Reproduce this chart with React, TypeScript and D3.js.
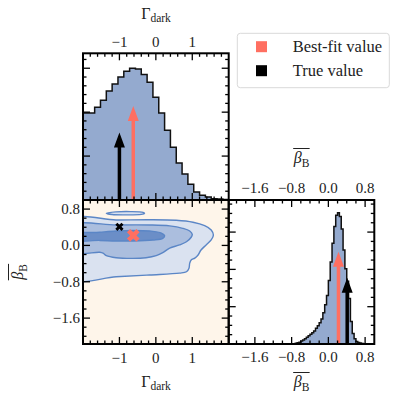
import React, { useEffect, useRef } from "react";
import * as d3 from "d3";

const W = 397;
const H = 399;

// marginal of Gamma_dark: 25 bins over [-2, 2]
const gammaRange = [-2, 2];
const gammaCounts = [
  1.98, 1.98, 2.11, 2.27, 2.48, 2.64, 2.8, 2.93, 3.0, 2.98, 2.86, 2.68, 2.34,
  1.98, 1.59, 1.2, 0.84, 0.59, 0.36, 0.18, 0.11, 0.07, 0.03, 0.02, 0.01,
];

// marginal of beta_B: bins of 0.04 from -0.76
const betaStart = -0.76;
const betaWidth = 0.04;
const betaCounts = [
  0.005, 0.02, 0.035, 0.05, 0.08, 0.11, 0.14, 0.18, 0.22, 0.26, 0.3, 0.35,
  0.42, 0.49, 0.57, 0.67, 0.84, 1.05, 1.3, 1.7, 2.2, 2.7, 3.15, 3.45, 3.52,
  3.42, 3.08, 2.52, 2.02, 1.68, 1.22, 0.6, 0.28, 0.14, 0.07, 0.04, 0.025,
  0.015, 0.01, 0.005,
];

const bestFit = { gamma: -0.62, beta: 0.22 };
const truth = { gamma: -1.0, beta: 0.41 };
// arrow length as fraction of axis height
const arrowFrac = { best: 0.64, truth: 0.46 };

const gammaTicks = [-1, 0, 1];
const betaTicks = [-1.6, -0.8, 0, 0.8];
const histTicks = [0, 1, 2, 3];

// 2D credible contours, [Gamma_dark, beta_B]
const contourOuter = [
  [-2.3, 0.56], [-1.09, 0.56], [-0.17, 0.566], [0.56, 0.553], [1.02, 0.51],
  [1.34, 0.434], [1.52, 0.34], [1.58, 0.23], [1.52, 0.12], [1.38, 0.01],
  [1.24, -0.1], [1.16, -0.21], [1.07, -0.28], [0.97, -0.32], [0.93, -0.39],
  [0.91, -0.5], [0.84, -0.58], [0.65, -0.61], [-0.17, -0.65], [-1.09, -0.69],
  [-2.3, -0.73],
];
const contourMid = [
  [-2.3, 0.43], [-1.09, 0.45], [-0.17, 0.45], [0.38, 0.43], [0.74, 0.377],
  [0.93, 0.318], [1.0, 0.245], [0.97, 0.18], [0.84, 0.08], [0.65, 0.01],
  [0.38, -0.06], [0.19, -0.16], [0.01, -0.225], [-0.27, -0.27],
  [-0.63, -0.285], [-1.09, -0.27], [-1.36, -0.225], [-1.45, -0.17],
  [-1.54, -0.15], [-2.3, -0.14],
];
const contourInner = [
  [-2.3, 0.24], [-1.54, 0.29], [-1.09, 0.317], [-0.63, 0.33], [-0.17, 0.317],
  [0.15, 0.273], [0.24, 0.214], [0.19, 0.156], [-0.08, 0.12], [-0.63, 0.098],
  [-1.09, 0.098], [-1.54, 0.11], [-2.3, 0.12],
];
const contourIsland = [
  [-1.36, 0.71], [-1.1, 0.738], [-0.7, 0.745], [-0.35, 0.727], [-0.31, 0.705],
  [-0.4, 0.683], [-0.8, 0.672], [-1.2, 0.68],
];

const font = '"Liberation Serif", "DejaVu Serif", serif';
const red = "#ff6f61";

const App = () => {
  const svgRef = useRef(null);

  useEffect(() => {
    const svg = d3.select(svgRef.current);
    svg.selectAll("*").remove();

    const L = 83, M = 228.7, R = 374.3, T = 53.3, MID = 200, B = 344;

    const gx = d3.scaleLinear().domain([-2, 2]).range([L, M]);
    const hy = d3.scaleLinear().domain([0, 3.34]).range([MID, T]);
    const by = d3.scaleLinear().domain([-2.17, 1.0]).range([B, MID]);
    const bx = d3.scaleLinear().domain([-2.17, 1.0]).range([M, R]);
    const hy2 = d3.scaleLinear().domain([0, 3.86]).range([B, MID]);

    const defs = svg.append("defs");
    const clip = (id, x0, y0, x1, y1) =>
      defs.append("clipPath").attr("id", id).append("rect")
        .attr("x", x0).attr("y", y0).attr("width", x1 - x0).attr("height", y1 - y0);
    clip("cTL", L, T, M, MID);
    clip("cBL", L, MID, M, B);
    clip("cBR", M, MID, R, B);

    const stepPts = (edges, vals) => {
      const pts = [[edges[0], 0]];
      vals.forEach((v, i) => { pts.push([edges[i], v]); pts.push([edges[i + 1], v]); });
      pts.push([edges[edges.length - 1], 0]);
      return pts;
    };

    const arrow = (g, x, y0, y1, color) => {
      const hw = 1.75, headW = 5.5, headL = 15;
      g.append("path")
        .attr("d", `M${x - hw},${y0}L${x - hw},${y1 + headL}L${x - headW},${y1 + headL}L${x},${y1}L${x + headW},${y1 + headL}L${x + hw},${y1 + headL}L${x + hw},${y0}Z`)
        .attr("fill", color);
    };

    // ---------- top-left: Gamma marginal
    const gTL = svg.append("g").attr("clip-path", "url(#cTL)");
    const gStep = (gammaRange[1] - gammaRange[0]) / gammaCounts.length;
    const gEdges = d3.range(gammaCounts.length + 1).map((i) => gammaRange[0] + i * gStep);
    const tlLine = d3.line().x((d) => gx(d[0])).y((d) => hy(d[1]));
    const tlPts = stepPts(gEdges, gammaCounts);
    gTL.append("path").attr("d", tlLine(tlPts) + "Z").attr("fill", "#94aacf");
    gTL.append("path").attr("d", tlLine(tlPts)).attr("fill", "none")
      .attr("stroke", "#111").attr("stroke-width", 1.5);
    arrow(gTL, gx(truth.gamma), MID, MID - arrowFrac.truth * (MID - T), "#000");
    arrow(gTL, gx(bestFit.gamma), MID, MID - arrowFrac.best * (MID - T), red);

    // ---------- bottom-right: beta marginal
    const gBR = svg.append("g").attr("clip-path", "url(#cBR)");
    const bEdges = d3.range(betaCounts.length + 1).map((i) => betaStart + i * betaWidth);
    const brLine = d3.line().x((d) => bx(d[0])).y((d) => hy2(d[1]));
    const brPts = stepPts(bEdges, betaCounts);
    gBR.append("path").attr("d", brLine(brPts) + "Z").attr("fill", "#94aacf");
    gBR.append("path").attr("d", brLine(brPts)).attr("fill", "none")
      .attr("stroke", "#111").attr("stroke-width", 1.5);
    arrow(gBR, bx(bestFit.beta), B, B - arrowFrac.best * (B - MID), red);
    arrow(gBR, bx(truth.beta), B, B - arrowFrac.truth * (B - MID), "#000");

    // ---------- bottom-left: joint contours
    const gBL = svg.append("g").attr("clip-path", "url(#cBL)");
    gBL.append("rect").attr("x", L).attr("y", MID).attr("width", M - L)
      .attr("height", B - MID).attr("fill", "#fef5ea");
    const cLine = d3.line().x((d) => gx(d[0])).y((d) => by(d[1]))
      .curve(d3.curveCatmullRomClosed.alpha(0.5));
    const levels = [
      [contourOuter, "#dae2f0"],
      [contourMid, "#abbede"],
      [contourInner, "#6b8ec7"],
      [contourIsland, "#dae2f0"],
    ];
    levels.forEach(([pts, fill]) => {
      gBL.append("path").attr("d", cLine(pts)).attr("fill", fill)
        .attr("stroke", "#5b86c6").attr("stroke-width", 1.4);
    });
    const xMark = (size) => d3.symbol(d3.symbolCross, size)();
    gBL.append("path").attr("d", xMark(42)).attr("fill", "#000")
      .attr("transform", `translate(${gx(truth.gamma)},${by(truth.beta)}) rotate(45)`);
    gBL.append("path").attr("d", xMark(100)).attr("fill", red)
      .attr("transform", `translate(${gx(bestFit.gamma)},${by(bestFit.beta)}) rotate(45)`);

    // ---------- ticks
    const minorList = (lo, hi, step, majors) =>
      d3.range(Math.ceil(lo / step - 1e-6), Math.floor(hi / step + 1e-6) + 1)
        .map((k) => +(k * step).toFixed(4))
        .filter((v) => !majors.some((m) => Math.abs(m - v) < 1e-6));
    const tickG = svg.append("g").attr("stroke", "#000").attr("stroke-width", 1.3);
    const xTicks = (scale, y, dir, majors, minors) => {
      majors.forEach((v) => {
        const x = scale(v);
        if (x < scale.range()[0] + 0.5 || x > scale.range()[1] - 0.5) return;
        tickG.append("line").attr("x1", x).attr("x2", x).attr("y1", y).attr("y2", y + dir * 7);
      });
      minors.forEach((v) => {
        const x = scale(v);
        if (x < scale.range()[0] + 0.5 || x > scale.range()[1] - 0.5) return;
        tickG.append("line").attr("x1", x).attr("x2", x).attr("y1", y).attr("y2", y + dir * 3.5);
      });
    };
    const yTicks = (scale, x, dir, majors, minors) => {
      const [a, b] = scale.range();
      const lo = Math.min(a, b), hi = Math.max(a, b);
      majors.forEach((v) => {
        const y = scale(v);
        if (y < lo + 0.5 || y > hi - 0.5) return;
        tickG.append("line").attr("y1", y).attr("y2", y).attr("x1", x).attr("x2", x + dir * 7);
      });
      minors.forEach((v) => {
        const y = scale(v);
        if (y < lo + 0.5 || y > hi - 0.5) return;
        tickG.append("line").attr("y1", y).attr("y2", y).attr("x1", x).attr("x2", x + dir * 3.5);
      });
    };
    const gMin = minorList(-2, 2, 0.2, gammaTicks);
    const bMin = minorList(-2.17, 1.0, 0.2, betaTicks);
    const hMin = minorList(0, 3.34, 0.2, histTicks);
    const h2Min = minorList(0, 3.86, 0.25, histTicks);

    xTicks(gx, T, 1, gammaTicks, gMin);
    xTicks(gx, MID, -1, gammaTicks, gMin);
    yTicks(hy, L, 1, histTicks, hMin);
    yTicks(hy, M, -1, histTicks, hMin);

    xTicks(gx, MID, 1, gammaTicks, gMin);
    xTicks(gx, B, -1, gammaTicks, gMin);
    yTicks(by, L, 1, betaTicks, bMin);
    yTicks(by, M, -1, betaTicks, bMin);

    xTicks(bx, MID, 1, betaTicks, bMin);
    xTicks(bx, B, -1, betaTicks, bMin);
    yTicks(hy2, M, 1, histTicks, h2Min);
    yTicks(hy2, R, -1, histTicks, h2Min);

    // ---------- frames
    [[L, T, M, MID], [L, MID, M, B], [M, MID, R, B]].forEach(([x0, y0, x1, y1]) => {
      svg.append("rect").attr("x", x0).attr("y", y0).attr("width", x1 - x0)
        .attr("height", y1 - y0).attr("fill", "none").attr("stroke", "#000")
        .attr("stroke-width", 2);
    });

    // ---------- tick labels
    const fmt = (v, dec) => {
      const s = Math.abs(v).toFixed(dec);
      return v < -1e-9 ? "\u2212" + s : s;
    };
    const txt = svg.append("g").attr("font-family", font).attr("font-size", 15).attr("fill", "#222");
    gammaTicks.forEach((v) => {
      txt.append("text").attr("x", gx(v)).attr("y", 46.5).attr("text-anchor", "middle").text(fmt(v, 0));
      txt.append("text").attr("x", gx(v)).attr("y", 363).attr("text-anchor", "middle").text(fmt(v, 0));
    });
    betaTicks.forEach((v) => {
      txt.append("text").attr("x", 80).attr("y", by(v) + 5).attr("text-anchor", "end").text(fmt(v, 1));
      txt.append("text").attr("x", bx(v)).attr("y", 193).attr("text-anchor", "middle").text(fmt(v, 1));
      txt.append("text").attr("x", bx(v)).attr("y", 362).attr("text-anchor", "middle").text(fmt(v, 1));
    });

    // ---------- axis labels
    const gammaLabel = (x, y) => {
      const t = txt.append("text").attr("x", x).attr("y", y).attr("text-anchor", "middle")
        .attr("font-size", 16);
      t.append("tspan").text("\u0393");
      t.append("tspan").attr("font-size", 11.5).attr("dy", 3.5).text("dark");
    };
    gammaLabel(156, 18.5);
    gammaLabel(156, 386.5);

    const betaLabel = (g) => {
      const t = g.append("text").attr("x", 0).attr("y", 0).attr("text-anchor", "middle")
        .attr("font-size", 16).attr("font-style", "italic");
      t.append("tspan").text("\u03b2");
      t.append("tspan").attr("font-size", 11.5).attr("font-style", "normal").attr("dy", 3.5).text("B");
      const bb = t.node().getBBox();
      g.append("line").attr("x1", bb.x + 0.5).attr("x2", bb.x + bb.width)
        .attr("y1", -14.5).attr("y2", -14.5).attr("stroke", "#222").attr("stroke-width", 1);
    };
    betaLabel(txt.append("g").attr("transform", `translate(${(M + R) / 2},163)`));
    betaLabel(txt.append("g").attr("transform", `translate(${(M + R) / 2},387)`));
    betaLabel(txt.append("g").attr("transform", `translate(23,272) rotate(-90)`));

    // ---------- legend
    const lg = svg.append("g");
    lg.append("rect").attr("x", 237.3).attr("y", 33.3).attr("width", 152).attr("height", 54.4)
      .attr("rx", 3).attr("fill", "#fff").attr("stroke", "#d9d9d9").attr("stroke-width", 1);
    [["Best-fit value", red, 46.7], ["True value", "#000", 70.7]].forEach(([label, c, y]) => {
      lg.append("rect").attr("x", 256).attr("y", y - 5.5).attr("width", 11).attr("height", 11).attr("fill", c);
      lg.append("text").attr("x", 292.7).attr("y", y + 5.5).attr("font-family", font)
        .attr("font-size", 16.5).attr("fill", "#222").text(label);
    });
  }, []);

  return (
    <svg
      ref={svgRef}
      width={W}
      height={H}
      style={{ position: "absolute", left: 0, top: 0, background: "#fff" }}
    />
  );
};

export default App;
